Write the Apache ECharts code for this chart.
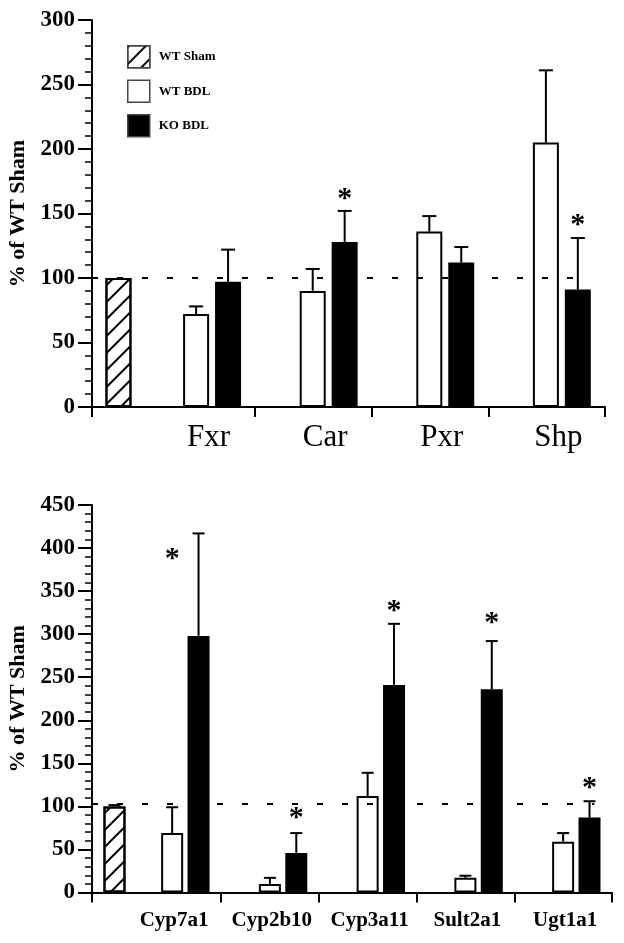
<!DOCTYPE html>
<html>
<head>
<meta charset="utf-8">
<script src="https://cdn.jsdelivr.net/npm/echarts@6/dist/echarts.min.js"></script>
<style>
html,body{margin:0;padding:0;background:#fff;}
#chart{width:624px;height:943px;}
</style>
</head>
<body>
<div id="chart"></div>
<script>
// ---------- DATA ----------
const legendNames = ['WT Sham', 'WT BDL', 'KO BDL'];

// Panel A: nuclear receptors (% of WT Sham)
const topGenes = ['Fxr', 'Car', 'Pxr', 'Shp'];
const topShamMean = 100;
const topShamSem = 0;
const topWtMean = [72, 90, 136, 205];
const topWtSem = [6, 17, 12, 56];
const topKoMean = [97, 128, 112, 91];
const topKoSem = [25, 24, 12, 40];
const topStars = [ { gene: 1, bar: 'KO', y: 165 }, { gene: 3, bar: 'KO', y: 145 } ];
const topYTicks = [0, 50, 100, 150, 200, 250, 300];

// Panel B: target genes (% of WT Sham)
const botGenes = ['Cyp7a1', 'Cyp2b10', 'Cyp3a11', 'Sult2a1', 'Ugt1a1'];
const botShamMean = 100;
const botShamSem = 1.5;
const botWtMean = [69, 10, 112, 17, 59];
const botWtSem = [30, 7, 27, 2.5, 10];
const botKoMean = [298, 46, 241, 236, 87];
const botKoSem = [119, 23, 71, 56, 19];
const botStars = [
  { gene: 0, bar: 'WT', y: 393 },
  { gene: 1, bar: 'KO', y: 92 },
  { gene: 2, bar: 'KO', y: 332 },
  { gene: 3, bar: 'KO', y: 319 },
  { gene: 4, bar: 'KO', y: 127 }
];
const botYTicks = [0, 50, 100, 150, 200, 250, 300, 350, 400, 450];
const refLine = { top: 100, bot: 102.5 };

// ---------- LAYOUT ----------
const FONT = '"Liberation Serif", "Times New Roman", serif';
const panels = [
  { genes: topGenes, sham: topShamMean, shamSem: topShamSem, wt: topWtMean, wtSem: topWtSem,
    ko: topKoMean, koSem: topKoSem, stars: topStars, yTicks: topYTicks, ref: refLine.top,
    grid: { left: 92, top: 20, right: 19, height: 387 },
    xMax: 4.4, shamX: 0.227, groupOff: 0.03, pairOff: 0.137, labelOff: 0.0, tickOff: 0.4,
    barW: 26, cap: 7, refEnd: 4.27,
    labelFont: { fontSize: 31, fontWeight: 'normal' }, labelMargin: 15 },
  { genes: botGenes, sham: botShamMean, shamSem: botShamSem, wt: botWtMean, wtSem: botWtSem,
    ko: botKoMean, koSem: botKoSem, stars: botStars, yTicks: botYTicks, ref: refLine.bot,
    grid: { left: 92, top: 505, right: 12, height: 387.5 },
    xMax: 5.32, shamX: 0.23, groupOff: -0.045, pairOff: 0.135, labelOff: -0.16, tickOff: 0.32,
    barW: 22, cap: 6, refEnd: 5.14,
    labelFont: { fontSize: 21, fontWeight: 'bold' }, labelMargin: 18 }
];

const option = {
  animation: false,
  backgroundColor: '#fff',
  grid: panels.map(p => Object.assign({ containLabel: false, outerBoundsMode: 'none' }, p.grid)),
  legend: {
    data: legendNames,
    orient: 'vertical',
    left: 122, top: 40,
    itemWidth: 22, itemHeight: 22, itemGap: 11,
    icon: 'rect',
    itemStyle: { borderColor: '#444', borderWidth: 1.5 },
    textStyle: { fontFamily: FONT, fontWeight: 'bold', fontSize: 13, color: '#000', padding: [0, 0, 0, 4] },
    selectedMode: false
  },
  xAxis: [],
  yAxis: [],
  series: []
};

panels.forEach((p, pi) => {
  const n = p.genes.length;
  const tickVals = [0];
  const labelVals = [];
  for (let i = 0; i < n; i++) {
    tickVals.push(+(i + 1 + p.tickOff).toFixed(3));
    labelVals.push(+(i + 1 + p.labelOff).toFixed(3));
  }
  option.xAxis.push({
    gridIndex: pi, type: 'value', min: 0, max: p.xMax,
    axisLine: { show: true, onZero: false, lineStyle: { color: '#000', width: 2 } },
    axisTick: { show: true, customValues: tickVals, length: 10, lineStyle: { color: '#000', width: 2 } },
    axisLabel: {
      show: true, customValues: labelVals, margin: p.labelMargin,
      fontFamily: FONT, color: '#000', fontSize: p.labelFont.fontSize, fontWeight: p.labelFont.fontWeight,
      formatter: v => {
        let best = 0, d = 1e9;
        labelVals.forEach((lv, k) => { if (Math.abs(lv - v) < d) { d = Math.abs(lv - v); best = k; } });
        return p.genes[best];
      }
    },
    splitLine: { show: false }
  });
  const yMax = p.yTicks[p.yTicks.length - 1];
  option.yAxis.push({
    gridIndex: pi, type: 'value', min: 0, max: yMax, interval: p.yTicks[1] - p.yTicks[0],
    name: '% of WT Sham', nameLocation: 'middle', nameGap: 60, nameRotate: 90,
    nameTextStyle: { fontFamily: FONT, fontWeight: 'bold', fontSize: 22, color: '#000' },
    axisLine: { show: true, lineStyle: { color: '#000', width: 2 } },
    axisTick: { show: true, inside: false, length: 14, lineStyle: { color: '#000', width: 2 } },
    minorTick: { show: true, splitNumber: 5, length: 7, lineStyle: { color: '#000', width: 1.5 } },
    axisLabel: { margin: 17, fontFamily: FONT, fontWeight: 'bold', fontSize: 23, color: '#000' },
    splitLine: { show: false }
  });

  const center = i => i + 1 + p.groupOff;
  const wtData = p.wt.map((v, i) => [center(i) - p.pairOff, v]);
  const koData = p.ko.map((v, i) => [center(i) + p.pairOff, v]);
  const shamData = [[p.shamX, p.sham]];

  const barBase = { type: 'bar', xAxisIndex: pi, yAxisIndex: pi, barWidth: p.barW, barGap: '-100%', z: 2 };
  option.series.push(Object.assign({}, barBase, {
    name: 'WT Sham', data: shamData,
    itemStyle: {
      color: '#fff', borderColor: '#000', borderWidth: 2,
      decal: { symbol: 'rect', color: '#000', dashArrayX: [1, 0], dashArrayY: [1.2, 9.5], rotation: -Math.PI * 0.25, symbolSize: 1 }
    }
  }));
  option.series.push(Object.assign({}, barBase, {
    name: 'WT BDL', data: wtData,
    itemStyle: { color: '#fff', borderColor: '#000', borderWidth: 2 }
  }));
  option.series.push(Object.assign({}, barBase, {
    name: 'KO BDL', data: koData,
    itemStyle: { color: '#000', borderColor: '#000', borderWidth: 2 }
  }));

  // error bars (upper only)
  const errData = [];
  if (p.shamSem > 0) errData.push([p.shamX, p.sham, p.sham + p.shamSem]);
  p.wt.forEach((v, i) => errData.push([center(i) - p.pairOff, v, v + p.wtSem[i]]));
  p.ko.forEach((v, i) => errData.push([center(i) + p.pairOff, v, v + p.koSem[i]]));
  const cap = p.cap;
  option.series.push({
    type: 'custom', xAxisIndex: pi, yAxisIndex: pi, z: 4, silent: true,
    encode: { x: 0, y: [1, 2] },
    data: errData,
    renderItem: (params, api) => {
      const a = api.coord([api.value(0), api.value(1)]);
      const b = api.coord([api.value(0), api.value(2)]);
      return {
        type: 'group',
        children: [
          { type: 'line', shape: { x1: a[0], y1: a[1], x2: b[0], y2: b[1] }, style: { stroke: '#000', lineWidth: 2 } },
          { type: 'line', shape: { x1: b[0] - cap, y1: b[1], x2: b[0] + cap, y2: b[1] }, style: { stroke: '#000', lineWidth: 2 } }
        ]
      };
    },
    markLine: {
      silent: true, symbol: 'none', label: { show: false },
      lineStyle: { color: '#000', width: 2, type: [6, 19] },
      data: [[{ coord: [0, p.ref] }, { coord: [p.refEnd, p.ref] }]]
    }
  });

  // significance asterisks
  const starData = p.stars.map(s => [center(s.gene) + (s.bar === 'KO' ? p.pairOff : -p.pairOff), s.y]);
  option.series.push({
    type: 'custom', xAxisIndex: pi, yAxisIndex: pi, z: 5, silent: true,
    encode: { x: 0, y: 1 },
    data: starData,
    renderItem: (params, api) => {
      const c = api.coord([api.value(0), api.value(1)]);
      return {
        type: 'text', x: c[0], y: c[1] + 5,
        style: { text: '*', fontFamily: FONT, fontWeight: 'bold', fontSize: 30, fill: '#000', align: 'center', verticalAlign: 'middle' }
      };
    }
  });
});

const chart = echarts.init(document.getElementById('chart'), null, { renderer: 'canvas' });
chart.setOption(option);
</script>
</body>
</html>
